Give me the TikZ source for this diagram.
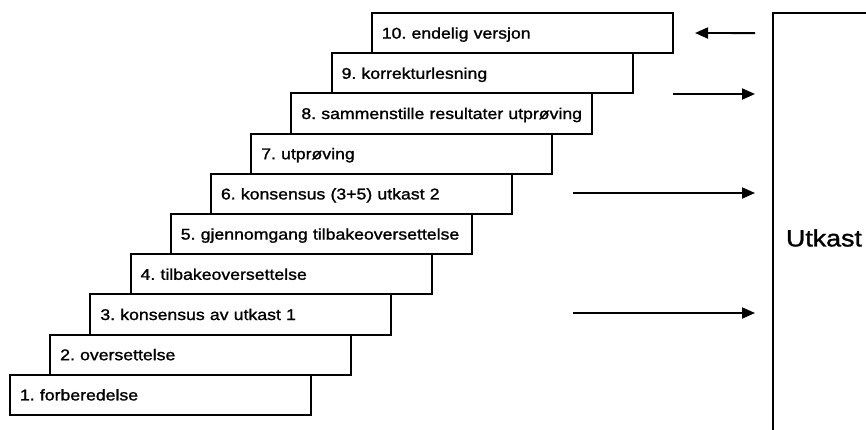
\documentclass[tikz,border=0pt]{standalone}
\usepackage{fontspec}
\newfontfamily\stepfont{Liberation Sans}[FakeStretch=1.14,FakeBold=1.3]
\usetikzlibrary{arrows.meta}
\usetikzlibrary{positioning}

\begin{document}
\begin{tikzpicture}[x=1pt,y=-1pt,>={Triangle[length=13pt,width=11pt]},line width=1.9pt]
  \tikzstyle{stepbox}=[draw=black, fill=white, anchor=south west, outer sep=0pt,
    minimum width=301pt, minimum height=40.2pt, text width=285pt, inner xsep=8pt, inner ysep=0pt,
    align=left, text height=11pt, text depth=0pt,
    font={\stepfont\fontsize{15.5}{18}\selectfont\frenchspacing\hspace*{2pt}}]
  \useasboundingbox (0,0) rectangle (866,429);
  \clip (0,0) rectangle (866,429);

  % the stairs
  \node[stepbox] (s1) at (10,415) {1. forberedelse};
  \node[stepbox] (s2) at ([xshift=40.2pt]s1.north west) {2. oversettelse};
  \node[stepbox] (s3) at ([xshift=40.2pt]s2.north west) {3. konsensus av utkast 1};
  \node[stepbox] (s4) at ([xshift=40.2pt]s3.north west) {4. tilbakeoversettelse};
  \node[stepbox] (s5) at ([xshift=40.2pt]s4.north west) {5. gjennomgang tilbakeoversettelse};
  \node[stepbox] (s6) at ([xshift=40.2pt]s5.north west) {6. konsensus (3+5) utkast 2};
  \node[stepbox] (s7) at ([xshift=40.2pt]s6.north west) {7. utprøving};
  \node[stepbox] (s8) at ([xshift=40.2pt]s7.north west) {8. sammenstille resultater utprøving};
  \node[stepbox] (s9) at ([xshift=40.2pt]s8.north west) {9. korrekturlesning};
  \node[stepbox] (s10) at ([xshift=40.2pt]s9.north west) {10. endelig versjon};

  % the draft
  \node[draw=black, anchor=north west, outer sep=0pt, minimum width=160pt, minimum height=450pt,
    text width=134pt, inner xsep=13pt, align=left, font={\stepfont\fontsize{23.5}{27}\selectfont}]
    (utkast) at (773,13) {Utkast};

  \coordinate (e10) at (695,33);
  \coordinate (b9) at (673,94);
  \coordinate (b6) at (573,193);
  \coordinate (b3) at (573,313);

  \draw[->, shorten <=18pt] (utkast.west |- s10) -- (e10);
  \draw[->, shorten >=18pt] (b9) -- (b9 -| utkast.west);
  \draw[->, shorten >=18pt] (b6) -- (b6 -| utkast.west);
  \draw[->, shorten >=18pt] (b3) -- (b3 -| utkast.west);
\end{tikzpicture}
\end{document}
